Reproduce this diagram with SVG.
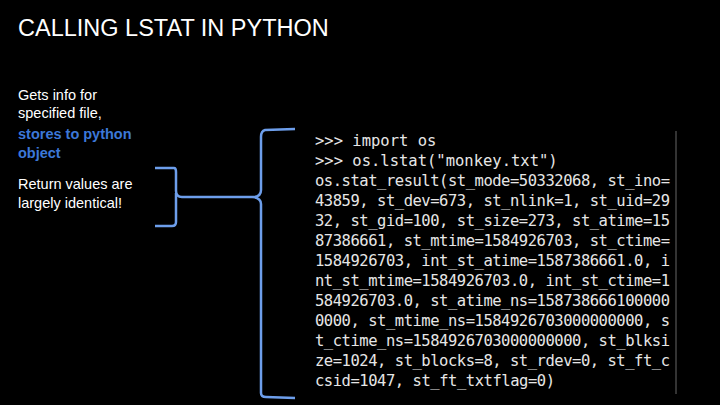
<svg xmlns="http://www.w3.org/2000/svg" width="720" height="405" viewBox="0 0 720 405">
<style>
.t{font-family:"Liberation Sans",Arial,sans-serif;fill:#fff}
.b{font-size:14.5px}
.blue{fill:#3c78d8;font-weight:bold}
.code{font-family:"DejaVu Sans Mono","Liberation Mono",monospace;font-size:15.5px;fill:#e6e6e6}
.br{fill:none;stroke:#6d9eeb;stroke-width:2.5}
</style>
<rect width="720" height="405" fill="#000"/>
<text class="t" x="18" y="36" font-size="23.5">CALLING LSTAT IN PYTHON</text>
<g id="desc">
<text class="t b" x="18" y="100">Gets info for</text>
<text class="t b" x="18" y="118">specified file,</text>
<text class="t b blue" x="18" y="139">stores to python</text>
<text class="t b blue" x="18" y="158">object</text>
<text class="t b" x="18" y="189">Return values are</text>
<text class="t b" x="18" y="208">largely identical!</text>
</g>
<g id="connectors">
<path class="br" d="M155,168 L174,168 Q176,168 176,172 L176,191 Q176,197 182,197 L253,197 M176,193 L176,222 Q176,226 172,226 L155,226"/>
<path class="br" d="M295,129 L265,130 Q261,131 261,137 L261,190 Q261,197 253,197 Q261,198 261,204 L261,393 Q261,397 266,397 L295,398"/>
</g>
<g id="code">
<line x1="676" y1="131" x2="676" y2="394" stroke="#444" stroke-width="1.5"/>
<text class="code" x="315" y="146">&gt;&gt;&gt; import os</text>
<text class="code" x="315" y="166">&gt;&gt;&gt; os.lstat("monkey.txt")</text>
<text class="code" x="315" y="186" textLength="355">os.stat_result(st_mode=50332068, st_ino=</text>
<text class="code" x="315" y="206" textLength="355">43859, st_dev=673, st_nlink=1, st_uid=29</text>
<text class="code" x="315" y="226" textLength="355">32, st_gid=100, st_size=273, st_atime=15</text>
<text class="code" x="315" y="246" textLength="355">87386661, st_mtime=1584926703, st_ctime=</text>
<text class="code" x="315" y="266" textLength="355">1584926703, int_st_atime=1587386661.0, i</text>
<text class="code" x="315" y="286" textLength="355">nt_st_mtime=1584926703.0, int_st_ctime=1</text>
<text class="code" x="315" y="306" textLength="355">584926703.0, st_atime_ns=158738666100000</text>
<text class="code" x="315" y="326" textLength="355">0000, st_mtime_ns=1584926703000000000, s</text>
<text class="code" x="315" y="346" textLength="355">t_ctime_ns=1584926703000000000, st_blksi</text>
<text class="code" x="315" y="366" textLength="355">ze=1024, st_blocks=8, st_rdev=0, st_ft_c</text>
<text class="code" x="315" y="386" textLength="240">csid=1047, st_ft_txtflag=0)</text>
</g>
</svg>
